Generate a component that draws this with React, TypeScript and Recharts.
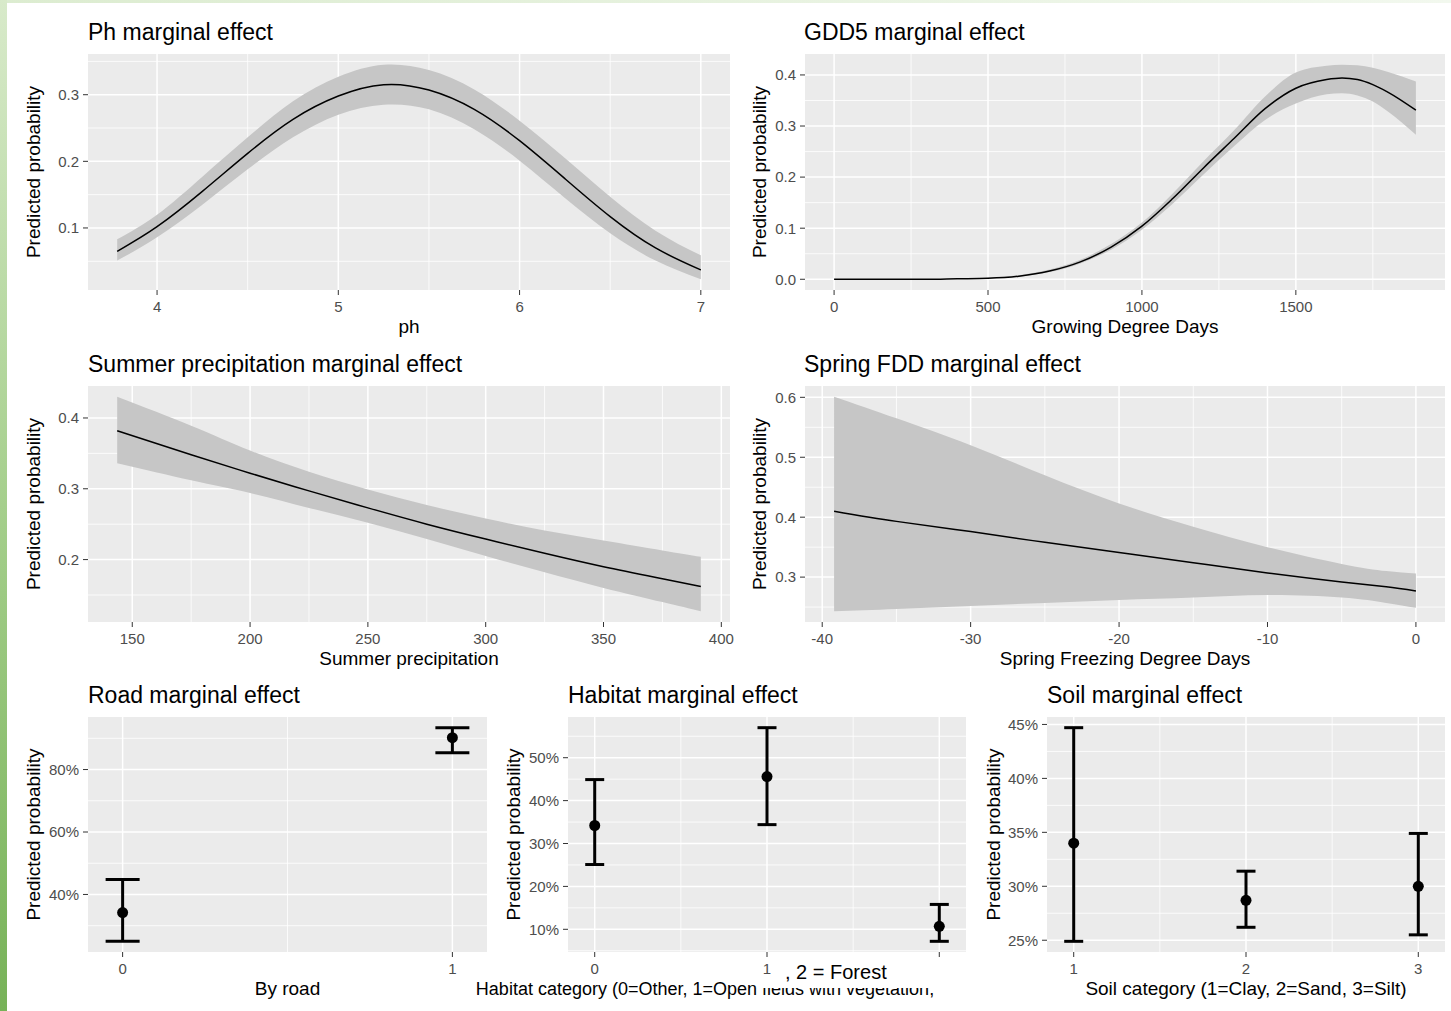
import React from "react";
import {
  ComposedChart,
  Line,
  Area,
  Scatter,
  ErrorBar,
  XAxis,
  YAxis,
  CartesianGrid,
} from "recharts";

const FONT = '"Liberation Sans", Arial, Helvetica, sans-serif';

// Ph marginal effect
const phX = [3.78, 4.0, 4.25, 4.5, 4.75, 5.0, 5.25, 5.5, 5.75, 6.0, 6.25, 6.5, 6.75, 7.0];
const phFit = [0.065, 0.102, 0.155, 0.212, 0.263, 0.298, 0.315, 0.307, 0.278, 0.231, 0.174, 0.117, 0.07, 0.037];
const phLow = [0.051, 0.086, 0.135, 0.188, 0.236, 0.27, 0.285, 0.278, 0.248, 0.201, 0.145, 0.092, 0.051, 0.023];
const phHigh = [0.083, 0.12, 0.177, 0.236, 0.29, 0.327, 0.345, 0.337, 0.308, 0.261, 0.205, 0.147, 0.096, 0.059];

// GDD5 marginal effect
const gddX = [0, 100, 200, 300, 400, 500, 600, 700, 800, 900, 1000, 1100, 1200, 1300, 1400, 1500, 1600, 1650, 1700, 1750, 1800, 1890];
const gddFit = [0, 0, 0, 0, 0.001, 0.002, 0.006, 0.016, 0.034, 0.063, 0.104, 0.158, 0.218, 0.276, 0.334, 0.374, 0.391, 0.394, 0.391, 0.381, 0.366, 0.331];
const gddLow = [0, 0, 0, 0, 0.001, 0.002, 0.005, 0.014, 0.031, 0.058, 0.097, 0.148, 0.205, 0.261, 0.312, 0.344, 0.362, 0.364, 0.36, 0.348, 0.328, 0.283];
const gddHigh = [0, 0, 0, 0, 0.001, 0.003, 0.008, 0.019, 0.038, 0.069, 0.111, 0.168, 0.231, 0.292, 0.358, 0.405, 0.418, 0.42, 0.419, 0.414, 0.406, 0.387];

// Summer precipitation marginal effect
const sumX = [143.6, 175, 200, 225, 250, 275, 300, 325, 350, 375, 391.3];
const sumFit = [0.382, 0.348, 0.322, 0.297, 0.273, 0.25, 0.229, 0.209, 0.19, 0.173, 0.162];
const sumLow = [0.336, 0.312, 0.294, 0.273, 0.252, 0.229, 0.205, 0.182, 0.16, 0.14, 0.127];
const sumHigh = [0.43, 0.389, 0.354, 0.324, 0.299, 0.277, 0.258, 0.241, 0.227, 0.213, 0.204];

// Spring FDD marginal effect
const sprX = [-39.2, -35, -30, -25, -20, -15, -10, -5, -2, 0];
const sprFit = [0.41, 0.393, 0.376, 0.358, 0.341, 0.324, 0.307, 0.292, 0.284, 0.277];
const sprLow = [0.243, 0.247, 0.252, 0.257, 0.262, 0.266, 0.27, 0.266, 0.257, 0.249];
const sprHigh = [0.601, 0.565, 0.52, 0.47, 0.423, 0.384, 0.35, 0.322, 0.31, 0.306];

// categorical effects
const roadX = [0, 1];
const roadFit = [0.342, 0.902];
const roadLow = [0.25, 0.854];
const roadHigh = [0.448, 0.934];

const habX = [0, 1, 2];
const habFit = [0.342, 0.456, 0.107];
const habLow = [0.251, 0.344, 0.072];
const habHigh = [0.449, 0.57, 0.158];

const soilX = [1, 2, 3];
const soilFit = [0.34, 0.287, 0.3];
const soilLow = [0.249, 0.262, 0.255];
const soilHigh = [0.447, 0.314, 0.349];

// ggplot style 5% expansion
const pad = (lo: number, hi: number): [number, number] => [lo - 0.05 * (hi - lo), hi + 0.05 * (hi - lo)];
const dec1 = (v: number) => v.toFixed(1);
const pct = (v: number) => `${Math.round(v * 100)}%`;

const tickStyle = { fill: "#4D4D4D", fontSize: 15, fontFamily: FONT };
const EXTRA = 15; // room on the right for the last tick label

function Title({ x, y, text }: { x: number; y: number; text: string }) {
  return (
    <div style={{ position: "absolute", left: x, top: y, fontSize: 23, lineHeight: 1, color: "#000", whiteSpace: "nowrap" }}>
      {text}
    </div>
  );
}

type CurveProps = {
  left: number; top: number; width: number; plotH: number;
  xs: number[]; fit: number[]; low: number[]; high: number[];
  xTicks: number[]; yTicks: number[]; xMinor: number[]; yMinor: number[];
  xTitle: string; yOffset: number; curve: "natural" | "monotone";
};

function CurvePanel(p: CurveProps) {
  const data = p.xs.map((x, i) => ({ x, fit: p.fit[i], band: [p.low[i], p.high[i]] }));
  const xDom = pad(Math.min(...p.xs), Math.max(...p.xs));
  const yDom = pad(Math.min(...p.low), Math.max(...p.high));
  return (
    <div style={{ position: "absolute", left: p.left, top: p.top }}>
      <ComposedChart width={p.width + EXTRA} height={p.plotH + 50} data={data} margin={{ top: 0, right: EXTRA, bottom: 0, left: 0 }}>
        <CartesianGrid fill="#EBEBEB" stroke="#FFFFFF" strokeWidth={0.8} horizontalValues={p.yMinor} verticalValues={p.xMinor} />
        <CartesianGrid stroke="#FFFFFF" strokeWidth={1.5} horizontalValues={p.yTicks} verticalValues={p.xTicks} />
        <XAxis
          dataKey="x" type="number" domain={xDom} allowDataOverflow ticks={p.xTicks} interval={0}
          height={50} axisLine={false} tickSize={5} tickMargin={6} tickLine={{ stroke: "#333" }} tick={tickStyle}
          label={{ value: p.xTitle, position: "insideBottom", offset: 7, fill: "#000", fontSize: 19 }}
        />
        <YAxis
          type="number" domain={yDom} allowDataOverflow ticks={p.yTicks} interval={0} tickFormatter={dec1}
          width={80} axisLine={false} tickSize={5} tickMargin={4} tickLine={{ stroke: "#333" }} tick={tickStyle}
          label={{ value: "Predicted probability", angle: -90, position: "insideLeft", offset: p.yOffset, fill: "#000", fontSize: 19, style: { textAnchor: "middle" } }}
        />
        <Area type={p.curve} dataKey="band" stroke="none" fill="#C6C6C6" fillOpacity={1} isAnimationActive={false} />
        <Line type={p.curve} dataKey="fit" stroke="#000" strokeWidth={1.5} dot={false} isAnimationActive={false} />
      </ComposedChart>
    </div>
  );
}

type DotProps = {
  left: number; top: number; width: number; plotH: number; yw: number;
  xs: number[]; fit: number[]; low: number[]; high: number[];
  yTicks: number[]; xMinor: number[]; yMinor: number[];
  xTitle: string; yOffset: number; cap: number; titleDx?: number; titleSize?: number;
};

const Dot = (props: any) => <circle cx={props.cx} cy={props.cy} r={5.5} fill="#000" />;

function DotPanel(p: DotProps) {
  const data = p.xs.map((x, i) => ({ x, y: p.fit[i], err: [p.fit[i] - p.low[i], p.high[i] - p.fit[i]] }));
  const xDom = pad(Math.min(...p.xs) - 0.05, Math.max(...p.xs) + 0.05);
  const yDom = pad(Math.min(...p.low), Math.max(...p.high));
  return (
    <div style={{ position: "absolute", left: p.left, top: p.top }}>
      <ComposedChart width={p.width + EXTRA} height={p.plotH + 50} margin={{ top: 0, right: EXTRA, bottom: 0, left: 0 }}>
        <CartesianGrid fill="#EBEBEB" stroke="#FFFFFF" strokeWidth={0.8} horizontalValues={p.yMinor} verticalValues={p.xMinor} />
        <CartesianGrid stroke="#FFFFFF" strokeWidth={1.5} horizontalValues={p.yTicks} verticalValues={p.xs} />
        <XAxis
          dataKey="x" type="number" domain={xDom} allowDataOverflow ticks={p.xs} interval={0}
          height={50} axisLine={false} tickSize={5} tickMargin={6} tickLine={{ stroke: "#333" }} tick={tickStyle}
          label={{ value: p.xTitle, position: "insideBottom", offset: 7, fill: "#000", fontSize: p.titleSize ?? 19, dx: p.titleDx ?? 0 }}
        />
        <YAxis
          dataKey="y" type="number" domain={yDom} allowDataOverflow ticks={p.yTicks} interval={0} tickFormatter={pct}
          width={p.yw} axisLine={false} tickSize={5} tickMargin={4} tickLine={{ stroke: "#333" }} tick={tickStyle}
          label={{ value: "Predicted probability", angle: -90, position: "insideLeft", offset: p.yOffset, fill: "#000", fontSize: 19, style: { textAnchor: "middle" } }}
        />
        <Scatter data={data} fill="#000" shape={Dot} isAnimationActive={false}>
          <ErrorBar dataKey="err" direction="y" width={p.cap} stroke="#000" strokeWidth={3} isAnimationActive={false} />
        </Scatter>
      </ComposedChart>
    </div>
  );
}

export default function App() {
  return (
    <div style={{ position: "absolute", left: 0, top: 0, width: 1451, height: 1011, background: "#fff", overflow: "hidden", fontFamily: FONT }}>
      <div style={{ position: "absolute", left: 0, top: 0, width: 1451, height: 3, background: "linear-gradient(to right, #dcecd0, #f2f8ee)" }} />
      <div style={{ position: "absolute", left: 0, top: 0, width: 7, height: 1011, background: "linear-gradient(to bottom, #d8eaca, #a5cf8c 50%, #77b258)" }} />

      <Title x={88} y={21} text="Ph marginal effect" />
      <CurvePanel left={8} top={54} width={722} plotH={236} xs={phX} fit={phFit} low={phLow} high={phHigh}
        xTicks={[4, 5, 6, 7]} yTicks={[0.1, 0.2, 0.3]} xMinor={[4.5, 5.5, 6.5]} yMinor={[0.05, 0.15, 0.25, 0.35]}
        xTitle="ph" yOffset={25.5} curve="natural" />

      <Title x={804} y={21} text="GDD5 marginal effect" />
      <CurvePanel left={725} top={54} width={720} plotH={236} xs={gddX} fit={gddFit} low={gddLow} high={gddHigh}
        xTicks={[0, 500, 1000, 1500]} yTicks={[0, 0.1, 0.2, 0.3, 0.4]} xMinor={[250, 750, 1250, 1750]} yMinor={[0.05, 0.15, 0.25, 0.35]}
        xTitle="Growing Degree Days" yOffset={34.5} curve="monotone" />

      <Title x={88} y={353} text="Summer precipitation marginal effect" />
      <CurvePanel left={8} top={386} width={722} plotH={236} xs={sumX} fit={sumFit} low={sumLow} high={sumHigh}
        xTicks={[150, 200, 250, 300, 350, 400]} yTicks={[0.2, 0.3, 0.4]} xMinor={[175, 225, 275, 325, 375]} yMinor={[0.15, 0.25, 0.35]}
        xTitle="Summer precipitation" yOffset={25.5} curve="natural" />

      <Title x={804} y={353} text="Spring FDD marginal effect" />
      <CurvePanel left={725} top={386} width={720} plotH={236} xs={sprX} fit={sprFit} low={sprLow} high={sprHigh}
        xTicks={[-40, -30, -20, -10, 0]} yTicks={[0.3, 0.4, 0.5, 0.6]} xMinor={[-35, -25, -15, -5]} yMinor={[0.25, 0.35, 0.45, 0.55]}
        xTitle="Spring Freezing Degree Days" yOffset={34.5} curve="natural" />

      <Title x={88} y={684} text="Road marginal effect" />
      <DotPanel left={8} top={717} width={479} plotH={235} yw={80} xs={roadX} fit={roadFit} low={roadLow} high={roadHigh}
        yTicks={[0.4, 0.6, 0.8]} xMinor={[0.5]} yMinor={[0.3, 0.5, 0.7, 0.9]}
        xTitle="By road" yOffset={25.5} cap={17} />

      <Title x={568} y={684} text="Habitat marginal effect" />
      <DotPanel left={458} top={717} width={508} plotH={235} yw={110} xs={habX} fit={habFit} low={habLow} high={habHigh}
        yTicks={[0.1, 0.2, 0.3, 0.4, 0.5]} xMinor={[0.5, 1.5]} yMinor={[0.05, 0.15, 0.25, 0.35, 0.45, 0.55]}
        xTitle="Habitat category (0=Other, 1=Open fields with vegetation," yOffset={54.8} cap={9.5} titleDx={-62} titleSize={18} />

      <Title x={1047} y={684} text="Soil marginal effect" />
      <DotPanel left={967} top={717} width={478} plotH={235} yw={80} xs={soilX} fit={soilFit} low={soilLow} high={soilHigh}
        yTicks={[0.25, 0.3, 0.35, 0.4, 0.45]} xMinor={[1.5, 2.5]} yMinor={[0.275, 0.325, 0.375, 0.425]}
        xTitle="Soil category (1=Clay, 2=Sand, 3=Silt)" yOffset={25.8} cap={9.5} />

      {/* pasted patch over the habitat axis title, as in the source figure */}
      <div style={{ position: "absolute", left: 757, top: 976, width: 25, height: 12, background: "#fff" }} />
      <div style={{ position: "absolute", left: 778, top: 958, width: 200, height: 30, background: "#fff" }} />
      <div style={{ position: "absolute", left: 785, top: 962, fontSize: 20, lineHeight: 1, color: "#000", whiteSpace: "nowrap" }}>
        , 2 = Forest
      </div>
    </div>
  );
}
